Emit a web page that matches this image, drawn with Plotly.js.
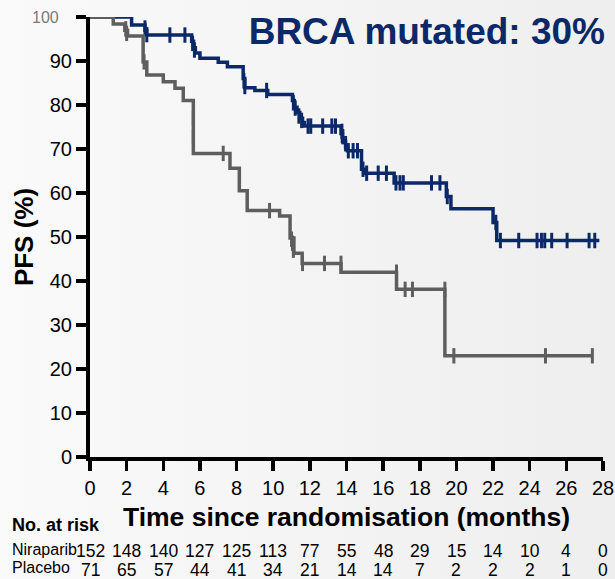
<!DOCTYPE html>
<html>
<head>
<meta charset="utf-8">
<script src="https://cdn.plot.ly/plotly-3.0.1.min.js"></script>
<style>
  html, body { margin: 0; padding: 0; }
  #chart { width: 615px; height: 579px; background: linear-gradient(to right, #fafafa, #eeeeee); }
</style>
</head>
<body>
<div id="chart"></div>
<script>
// Kaplan-Meier step points (time in months, PFS in %)
const niraparibTime = [0, 2.27, 3.0, 3.1, 5.55, 5.65, 5.75, 6.0, 7.0, 7.5, 8.36, 8.45, 9.0, 9.7, 11.05, 11.15, 11.3, 11.45, 11.6, 11.7, 13.7, 13.78, 13.95, 14.05, 14.82, 15.0, 16.6, 19.45, 19.7, 22.0, 22.2, 27.8];
const niraparibPFS  = [100, 98.2, 97.0, 95.9, 94.5, 93.0, 91.8, 90.6, 89.7, 88.7, 86.0, 83.9, 83.3, 82.4, 81.0, 79.5, 78.3, 77.0, 76.0, 75.2, 73.5, 71.7, 70.4, 69.6, 65.4, 64.5, 62.3, 59.2, 56.4, 53.3, 49.2, 49.2];

const placeboTime = [0, 1.27, 1.9, 2.05, 2.9, 3.1, 4.0, 4.64, 5.09, 5.64, 7.64, 8.15, 8.58, 10.35, 10.92, 11.13, 11.58, 13.7, 16.73, 19.37, 27.45];
const placeboPFS  = [100, 98.4, 97.0, 95.7, 89.8, 86.8, 85.3, 83.8, 81.0, 69.0, 65.6, 60.5, 56.0, 54.8, 49.8, 46.3, 44.0, 42.0, 38.1, 23.0, 23.0];

// Censored observations
const niraparibCensorTime = [3.0, 3.1, 4.36, 5.18, 5.6, 5.7, 8.4, 8.45, 9.64, 11.1, 11.2, 11.4, 11.55, 11.9, 12.05, 12.7, 13.2, 13.4, 13.75, 13.8, 13.95, 14.1, 14.36, 14.6, 14.9, 15.1, 15.73, 16.18, 16.7, 16.92, 17.1, 18.64, 19.1, 19.5, 22.15, 22.4, 23.4, 24.4, 24.64, 24.82, 25.2, 26.04, 27.24, 27.55];
const niraparibCensorPFS  = [97.5, 96.0, 95.9, 95.9, 94.0, 92.5, 85.5, 84.2, 83.3, 80.5, 79.3, 77.5, 76.5, 75.2, 75.2, 75.2, 75.2, 75.2, 74.0, 72.8, 71.2, 69.6, 69.6, 69.6, 65.4, 64.5, 64.5, 64.5, 62.3, 62.3, 62.3, 62.3, 62.3, 59.2, 53.3, 49.2, 49.2, 49.2, 49.2, 49.2, 49.2, 49.2, 49.2, 49.2];
const niraparibStrayTime = [6.0];
const niraparibStrayPFS  = [101];

const placeboCensorTime = [1.95, 2.0, 2.95, 5.64, 5.64, 7.27, 9.8, 11.0, 11.05, 11.1, 11.6, 12.8, 13.7, 16.73, 17.2, 17.6, 19.37, 19.86, 24.86, 27.42];
const placeboCensorPFS  = [97.3, 96.3, 89.8, 77.0, 72.8, 69.0, 56.0, 49.5, 48.6, 47.0, 44.0, 44.0, 44.0, 42.0, 38.1, 38.1, 38.1, 23.0, 23.0, 23.0];

// Number at risk table
const riskTimes = [0, 2, 4, 6, 8, 10, 12, 14, 16, 18, 20, 22, 24, 26, 28];
const niraparibRisk = [152, 148, 140, 127, 125, 113, 77, 55, 48, 29, 15, 14, 10, 4, 0];
const placeboRisk   = [71, 65, 57, 44, 41, 34, 21, 14, 14, 7, 2, 2, 2, 1, 0];

const xTicks = [0, 2, 4, 6, 8, 10, 12, 14, 16, 18, 20, 22, 24, 26, 28];
const yTicks = [0, 10, 20, 30, 40, 50, 60, 70, 80, 90, 100];
const yTickText = ['0', '10', '20', '30', '40', '50', '60', '70', '80', '90', ''];

const NAVY = '#0b2868';
const GREY = '#5e5e5e';
const FONT = 'Liberation Sans, Arial, sans-serif';

const traces = [
  { x: niraparibTime, y: niraparibPFS, mode: 'lines', line: { shape: 'hv', color: NAVY, width: 3.5 }, cliponaxis: false, name: 'Niraparib' },
  { x: niraparibCensorTime, y: niraparibCensorPFS, mode: 'markers', cliponaxis: false,
    marker: { symbol: 'line-ns', size: 11, line: { color: NAVY, width: 3 } } },
  { x: niraparibStrayTime, y: niraparibStrayPFS, mode: 'markers', cliponaxis: false,
    marker: { symbol: 'line-ns', size: 4, line: { color: NAVY, width: 1.5 } } },
  { x: placeboTime, y: placeboPFS, mode: 'lines', line: { shape: 'hv', color: GREY, width: 3.5 }, cliponaxis: false, name: 'Placebo' },
  { x: placeboCensorTime, y: placeboCensorPFS, mode: 'markers', cliponaxis: false,
    marker: { symbol: 'line-ns', size: 11, line: { color: GREY, width: 3 } } }
];

const plotTop = 17, plotBottom = 457;
const H = plotBottom - plotTop;
const py = p => (plotBottom - p) / H;   // pixel row -> paper y

const annotations = [
  { text: '100', xref: 'paper', yref: 'y', x: 0, y: 100, xanchor: 'right', yanchor: 'middle', xshift: -29,
    showarrow: false, font: { family: FONT, size: 16, color: '#7a7a7a' } },
  { text: '<b>No. at risk</b>', xref: 'paper', yref: 'paper', x: -0.156, y: py(525), xanchor: 'left', yanchor: 'middle',
    showarrow: false, font: { family: FONT, size: 18, color: '#000' } },
  { text: 'Niraparib', xref: 'paper', yref: 'paper', x: -0.156, y: py(549), xanchor: 'left', yanchor: 'middle',
    showarrow: false, font: { family: FONT, size: 16, color: '#000' } },
  { text: 'Placebo', xref: 'paper', yref: 'paper', x: -0.156, y: py(567), xanchor: 'left', yanchor: 'middle',
    showarrow: false, font: { family: FONT, size: 16, color: '#000' } }
];
riskTimes.forEach((t, i) => {
  annotations.push({ text: String(niraparibRisk[i]), xref: 'x', yref: 'paper', x: t, y: py(551), xanchor: 'center', yanchor: 'middle',
    showarrow: false, font: { family: FONT, size: 17.5, color: '#000' } });
  annotations.push({ text: String(placeboRisk[i]), xref: 'x', yref: 'paper', x: t, y: py(570), xanchor: 'center', yanchor: 'middle',
    showarrow: false, font: { family: FONT, size: 17.5, color: '#000' } });
});

const layout = {
  width: 615, height: 579,
  margin: { l: 90, r: 12, t: plotTop, b: 579 - plotBottom },
  paper_bgcolor: 'rgba(0,0,0,0)',
  plot_bgcolor: 'rgba(0,0,0,0)',
  showlegend: false,
  title: { text: '<b>BRCA mutated: 30%</b>', x: 605 / 615, xanchor: 'right', y: 1 - 31 / 579, yanchor: 'middle',
    font: { family: FONT, size: 37, color: NAVY } },
  xaxis: {
    range: [0, 28], tickvals: xTicks, ticks: 'outside', ticklen: 10, tickwidth: 3.5, tickcolor: '#000',
    showline: true, linewidth: 4, linecolor: '#000', showgrid: false, zeroline: false,
    tickfont: { family: FONT, size: 20, color: '#000' },
    title: { text: '<b>Time since randomisation (months)</b>', standoff: 10, font: { family: FONT, size: 26.5, color: '#000' } }
  },
  yaxis: {
    range: [0, 100], tickvals: yTicks, ticktext: yTickText, ticks: 'outside', ticklen: 10, tickwidth: 3.5, tickcolor: '#000',
    showline: true, linewidth: 4, linecolor: '#000', showgrid: false, zeroline: false,
    tickfont: { family: FONT, size: 20, color: '#000' },
    title: { text: '<b>PFS (%)</b>', standoff: 10, font: { family: FONT, size: 26, color: '#000' } }
  },
  annotations: annotations
};

Plotly.newPlot('chart', traces, layout, { displayModeBar: false, staticPlot: true });
</script>
</body>
</html>
